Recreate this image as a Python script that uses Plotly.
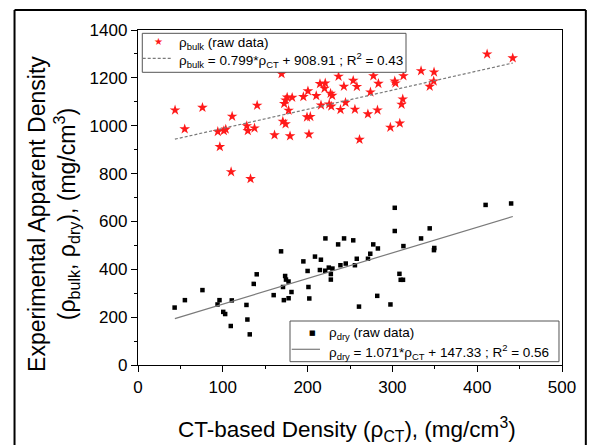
import plotly.graph_objects as go

# ---- data ----
bulk_ct = [43.7, 55.1, 76.0, 94.1, 96.5, 101.2, 103.5, 111.0, 109.8, 128.3, 129.5, 132.7,
           137.4, 140.5, 161.0, 169.3, 170.8, 172.4, 174.0, 175.9, 181.8, 174.0, 179.3,
           177.6, 195.0, 200.4, 199.3, 203.2, 201.6, 210.2, 214.6, 220.8, 220.0, 215.8,
           225.5, 227.1, 229.0, 227.9, 236.5, 242.8, 244.7, 238.8, 253.8, 258.1, 255.8,
           261.2, 271.1, 274.1, 277.6, 283.5, 282.4, 297.6, 302.8, 303.6, 308.7, 310.8,
           312.2, 313.0, 333.8, 344.0, 349.1, 348.7, 411.7, 441.9]
bulk_val = [1065, 986, 1076, 975, 912, 979, 985, 1039, 807, 999, 979, 778,
            990, 1085, 961, 1217, 1018, 1092, 1107, 1119, 1118, 1007, 957,
            1064, 1121, 1145, 1036, 1038, 964, 1125, 1175, 1178, 1156, 1086,
            1090, 1135, 1126, 1081, 1206, 1164, 1097, 1067, 1189, 1163, 1068,
            942, 1049, 1140, 1208, 1176, 1065, 993, 1186, 1178, 1010, 1089,
            1111, 1208, 1229, 1164, 1224, 1186, 1299, 1283]

dry_ct = [43.2, 55.3, 76.0, 93.8, 96.1, 100.5, 102.8, 110.6, 109.4, 127.9, 129.0, 131.8,
          136.5, 140.0, 160.0, 168.7, 171.0, 172.0, 173.5, 174.5, 177.5, 177.6, 181.0,
          195.0, 200.0, 201.0, 202.0, 208.7, 214.5, 215.7, 220.8, 221.0, 225.0, 227.4,
          227.4, 229.3, 236.0, 238.7, 243.0, 245.0, 253.8, 255.8, 258.0, 260.6, 271.2,
          273.9, 277.4, 282.1, 282.9, 297.7, 302.8, 302.8, 308.3, 309.8, 312.5, 313.0,
          333.8, 344.0, 349.0, 349.4, 409.9, 440.0]
dry_val = [240, 271, 313, 253, 271, 222, 213, 270, 163, 251, 190, 128,
           339, 379, 292, 475, 326, 271, 372, 357, 349, 279, 305,
           433, 393, 326, 278, 453, 397, 440, 394, 529, 407, 380,
           357, 403, 504, 417, 529, 424, 521, 417, 444, 244, 444,
           465, 504, 289, 487, 253, 657, 560, 381, 356, 356, 497,
           529, 571, 480, 489, 669, 675]

# regression lines as stated in the legend
fit_range = [43.5, 442.0]
bulk_slope, bulk_icpt = 0.799, 908.91
dry_slope, dry_icpt = 1.071, 147.33

# legend / title texts
bulk_raw_label = "ρ<sub>bulk</sub> (raw data)"
bulk_fit_label = "ρ<sub>bulk</sub> = 0.799*ρ<sub>CT</sub> + 908.91 ; R<sup>2</sup> = 0.43"
dry_raw_label = "ρ<sub>dry</sub> (raw data)"
dry_fit_label = "ρ<sub>dry</sub> = 1.071*ρ<sub>CT</sub> + 147.33 ; R<sup>2</sup> = 0.56"
x_title = "CT-based Density (ρ<sub>CT</sub>), (mg/cm<sup>3</sup>)"
y_title = "Experimental Apparent Density<br>(ρ<sub>bulk</sub>, ρ<sub>dry</sub>), (mg/cm<sup>3</sup>)"

FONT = "Liberation Sans, Arial, sans-serif"
STAR_RED = "#ff1a1a"
FIT_GREY = "#7a7a7a"
DASH = "3px,2px"

fig = go.Figure()
fig.add_trace(go.Scatter(
    x=bulk_ct, y=bulk_val, mode="markers", name=bulk_raw_label, showlegend=False,
    marker=dict(symbol="star", size=8, color=STAR_RED, line=dict(width=0))))
fig.add_trace(go.Scatter(
    x=fit_range, y=[bulk_slope * v + bulk_icpt for v in fit_range], mode="lines",
    name=bulk_fit_label, showlegend=False,
    line=dict(color=FIT_GREY, width=1.2, dash=DASH)))
fig.add_trace(go.Scatter(
    x=dry_ct, y=dry_val, mode="markers", name=dry_raw_label, showlegend=False,
    marker=dict(symbol="square", size=4.5, color="black", line=dict(width=0))))
fig.add_trace(go.Scatter(
    x=fit_range, y=[dry_slope * v + dry_icpt for v in fit_range], mode="lines",
    name=dry_fit_label, showlegend=False,
    line=dict(color=FIT_GREY, width=1.2)))

axis_common = dict(
    showgrid=False, zeroline=False, showline=True, linecolor="black", linewidth=1.3,
    mirror=True, ticks="outside", ticklen=6, tickwidth=1.3, tickcolor="black",
    tickfont=dict(family=FONT, size=17, color="black"),
)
fig.update_xaxes(range=[0, 500], tick0=0, dtick=100,
                 minor=dict(dtick=50, ticks="outside", ticklen=3, tickwidth=1.3,
                            tickcolor="black"),
                 **axis_common)
fig.update_yaxes(range=[0, 1400], tick0=0, dtick=200,
                 minor=dict(dtick=100, ticks="outside", ticklen=3, tickwidth=1.3,
                            tickcolor="black"),
                 **axis_common)

# ---- hand-built legend boxes (paper coordinates) ----
P = dict(xref="paper", yref="paper")
leg_font = dict(family=FONT, size=13.5, color="black")
shapes = [
    dict(type="rect", x0=0.0101, x1=0.6321, y0=0.8737, y1=0.9901, layer="above",
         fillcolor="white", line=dict(color="#555555", width=1), **P),
    dict(type="line", x0=0.0111, x1=0.0795, y0=0.9155, y1=0.9155, layer="above",
         line=dict(color=FIT_GREY, width=1.2, dash=DASH), **P),
    dict(type="rect", x0=0.3585, x1=0.9929, y0=0.0099, y1=0.1313, layer="above",
         fillcolor="white", line=dict(color="#555555", width=1), **P),
    dict(type="line", x0=0.3625, x1=0.4292, y0=0.0469, y1=0.0469, layer="above",
         line=dict(color=FIT_GREY, width=1.2), **P),
]
# outer frame
frame = dict(line=dict(color="black", width=2), layer="above", **P)
fx0, fx1, fy0, fy1 = -0.2912, 1.0562, -0.30, 1.0597
shapes += [
    dict(type="line", x0=fx0, x1=fx0, y0=fy0, y1=fy1, **frame),
    dict(type="line", x0=fx1, x1=fx1, y0=fy0, y1=fy1, **frame),
    dict(type="line", x0=fx0, x1=fx1, y0=fy1, y1=fy1, **frame),
]

annotations = [
    dict(text="★", x=0.0479, y=0.9642, xanchor="center", yanchor="middle",
         showarrow=False, font=dict(family="DejaVu Sans", size=10, color=STAR_RED), **P),
    dict(text=bulk_raw_label, x=0.0913, y=0.9603, xanchor="left", yanchor="middle",
         showarrow=False, font=leg_font, **P),
    dict(text=bulk_fit_label, x=0.0913, y=0.9104, xanchor="left", yanchor="middle",
         showarrow=False, font=leg_font, **P),
    dict(text="■", x=0.4111, y=0.0955, xanchor="center", yanchor="middle",
         showarrow=False, font=dict(family="DejaVu Sans", size=7, color="black"), **P),
    dict(text=dry_raw_label, x=0.4450, y=0.0955, xanchor="left", yanchor="middle",
         showarrow=False, font=leg_font, **P),
    dict(text=dry_fit_label, x=0.4450, y=0.0397, xanchor="left", yanchor="middle",
         showarrow=False, font=leg_font, **P),
    dict(text=x_title, x=0.492, y=-0.194, xanchor="center", yanchor="middle",
         showarrow=False, font=dict(family=FONT, size=22.5, color="black"), **P),
    dict(text=y_title, x=-0.198, y=0.451, textangle=-90, xanchor="center",
         yanchor="middle", showarrow=False,
         font=dict(family=FONT, size=23, color="black"), **P),
]

fig.update_layout(
    width=589, height=445,
    margin=dict(l=138, r=27, t=30, b=80, autoexpand=False),
    paper_bgcolor="white", plot_bgcolor="white",
    font=dict(family=FONT, color="black"),
    showlegend=False,
    annotations=annotations,
    shapes=shapes,
)

fig.write_html("out.html", config={"displayModeBar": False},
               post_script="document.body.style.margin='0';")
